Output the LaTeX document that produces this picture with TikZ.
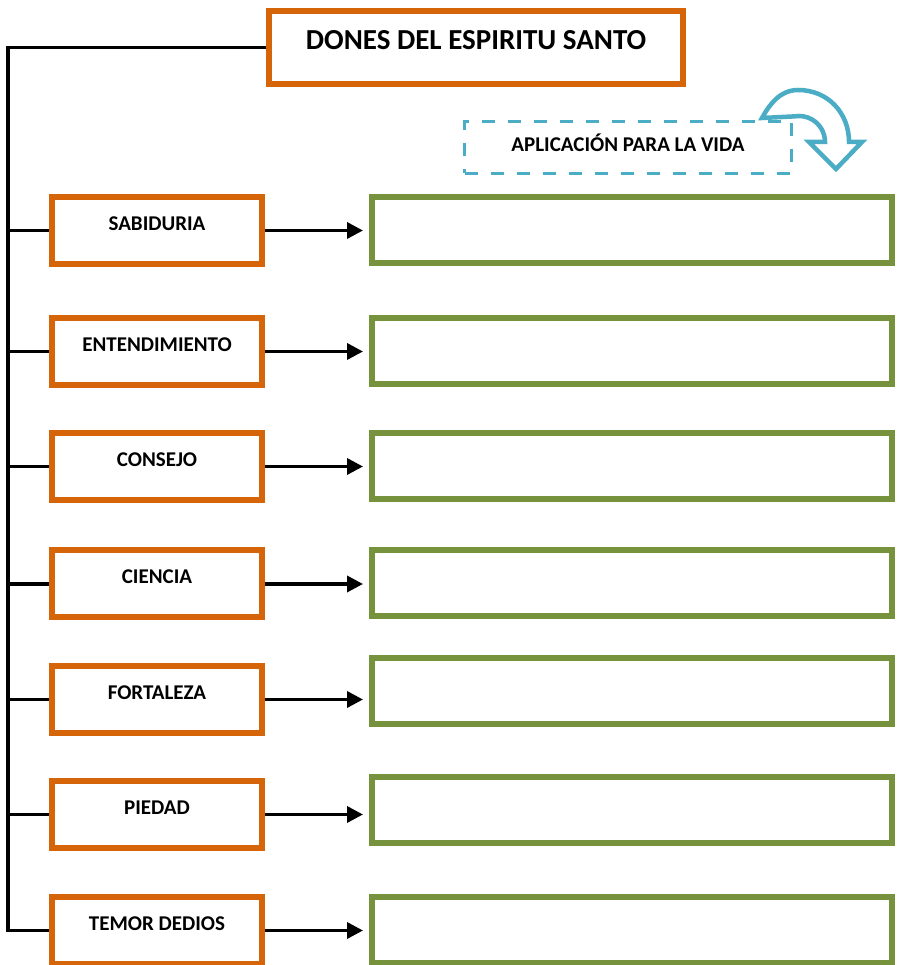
\documentclass[tikz,border=0pt]{standalone}
\usepackage{fontspec}
\setmainfont{Carlito}
\usetikzlibrary{arrows.meta}
\definecolor{naranja}{RGB}{214,101,10}
\definecolor{verde}{RGB}{118,146,60}
\definecolor{celeste}{RGB}{75,172,198}

\begin{document}
\begin{tikzpicture}[x=1pt,y=1pt,
  titulo/.style={draw=naranja,line width=5.5pt,fill=white,minimum width=414pt,minimum height=73pt,inner sep=0pt,
    font=\bfseries\fontsize{29}{34}\selectfont,text height=20pt,text depth=16pt},
  don/.style={draw=naranja,line width=6pt,fill=white,minimum width=210pt,minimum height=67pt,inner sep=0pt,
    font=\bfseries\fontsize{21}{25}\selectfont,text height=14pt,text depth=14pt},
  vida/.style={draw=verde,line width=6pt,fill=white,minimum width=520pt,minimum height=66pt},
  app/.style={draw=celeste,line width=3pt,dash pattern=on 13pt off 13pt,minimum width=327pt,minimum height=52pt,
    inner sep=0pt,font=\bfseries\fontsize{21}{25}\selectfont,text height=14pt,text depth=5.5pt},
  linea/.style={line width=3.5pt},
  flecha/.style={line width=3.5pt,-{Triangle[length=16pt,width=16pt]},shorten >=6pt}]
\useasboundingbox (0,0) rectangle (898,965);

\node[titulo] (t) at (476,917.5) {DONES DEL ESPIRITU SANTO};

\draw[celeste,line width=4.5pt,fill=white,line join=miter] (762,847) .. controls (775,871) and (788,875) .. (798,875)
  .. controls (828,875) and (849,852) .. (849,823) -- (862,823) -- (836,796) -- (809,823) -- (825,823)
  arc[start angle=0,end angle=100,radius=26] -- cycle;
\node[app] (ap) at (628,817.5) {APLICACIÓN PARA LA VIDA};

\node[don] (d1) at (157,734.5) {SABIDURIA};
\node[don] (d2) at (157,613.5) {ENTENDIMIENTO};
\node[don] (d3) at (157,498.5) {CONSEJO};
\node[don] (d4) at (157,381) {CIENCIA};
\node[don] (d5) at (157,265.5) {FORTALEZA};
\node[don] (d6) at (157,150.5) {PIEDAD};
\node[don] (d7) at (157,34.5) {TEMOR DEDIOS};

\node[vida] (a1) at (632,734.5) {};
\node[vida] (a2) at (632,614) {};
\node[vida] (a3) at (632,498.5) {};
\node[vida] (a4) at (632,382) {};
\node[vida] (a5) at (632,274) {};
\node[vida] (a6) at (632,154.5) {};
\node[vida] (a7) at (632,34.5) {};

\coordinate (c) at (8,917.5);
\draw[linea] (t.west) -- (c) -- (c |- d7.west) -- (d7.west);
\draw[linea] (c |- d1.west) -- (d1.west);
\draw[linea] (c |- d2.west) -- (d2.west);
\draw[linea] (c |- d3.west) -- (d3.west);
\draw[linea] (c |- d4.west) -- (d4.west);
\draw[linea] (c |- d5.west) -- (d5.west);
\draw[linea] (c |- d6.west) -- (d6.west);

\draw[flecha] (d1.east) -- (d1.east -| a1.west);
\draw[flecha] (d2.east) -- (d2.east -| a2.west);
\draw[flecha] (d3.east) -- (d3.east -| a3.west);
\draw[flecha] (d4.east) -- (d4.east -| a4.west);
\draw[flecha] (d5.east) -- (d5.east -| a5.west);
\draw[flecha] (d6.east) -- (d6.east -| a6.west);
\draw[flecha] (d7.east) -- (d7.east -| a7.west);
\end{tikzpicture}
\end{document}
